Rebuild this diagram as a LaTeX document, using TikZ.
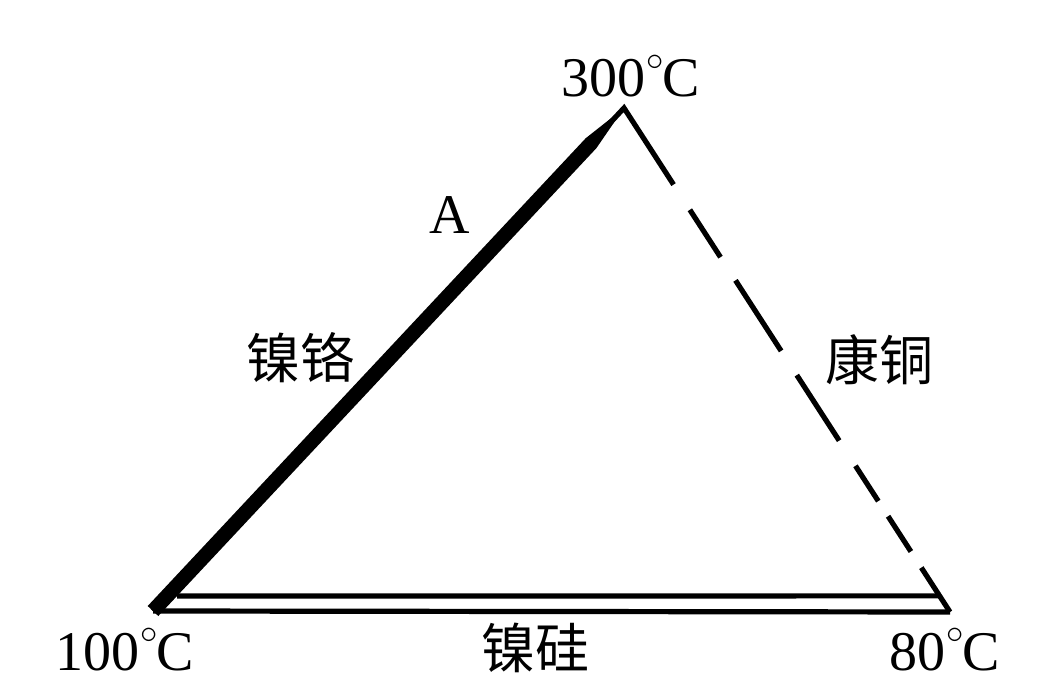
\documentclass[tikz,border=0pt]{standalone}
\usepackage{fontspec}
\setmainfont{Liberation Serif}
\newfontfamily\cjk{Noto Sans CJK SC}
\usetikzlibrary{calc}
\newcommand{\degC}{\kern0.5pt\raisebox{1.05ex}{\fontsize{17}{17}\selectfont$\circ$}\kern-0.5pt C}
\begin{document}
\begin{tikzpicture}[x=0.5pt,y=0.5pt,
  lbl/.style={font=\fontsize{28}{30}\selectfont, inner sep=0pt},
  cn/.style={font=\cjk\fontsize{27}{30}\selectfont, inner sep=0pt},
  thinline/.style={line width=2.6pt, line cap=butt}]
\useasboundingbox (0,0) rectangle (1063,685);
\coordinate (L) at (153,74);
\coordinate (T) at (624,577);
\coordinate (R) at (950,73);
\coordinate (B1) at (177,89);
\coordinate (B2) at ($(T)!0.968!(R)$);
\coordinate (P) at ($(L)!0.93!(T)$);
% thick left side (tapered near the top)
\fill ($(L)+(-5.3,5.0)$) -- ($(P)+(-5.3,5.0)$) -- (T) -- ($(P)+(5.3,-5.0)$) -- ($(L)+(5.3,-5.0)$) -- cycle;
\draw[thinline, miter limit=20] (L) -- (T) -- ($(T)!0.152!(R)$);
% dashed right side
\foreach \a/\b in {0.202/0.296, 0.342/0.482, 0.53/0.66, 0.71/0.78, 0.81/0.88, 0.912/1}
  \draw[thinline] ($(T)!\a!(R)$) -- ($(T)!\b!(R)$);
% double bottom side
\draw[thinline] (L) -- (R);
\draw[thinline] (B1) -- (B2);
% labels
\node[lbl, anchor=base] (t300) at (631,588) {300\degC};
\node[lbl, anchor=base] (t100) at (125,15) {100\degC};
\node[lbl, anchor=base] (t80) at (945,15) {80\degC};
\node[lbl] (A) at (450,470) {A};
\node[cn] (nicr) at (300,327) {镍铬};
\node[cn] (cu) at (879,325) {康铜};
\node[cn] (nisi) at (535,37) {镍硅};
\end{tikzpicture}
\end{document}
